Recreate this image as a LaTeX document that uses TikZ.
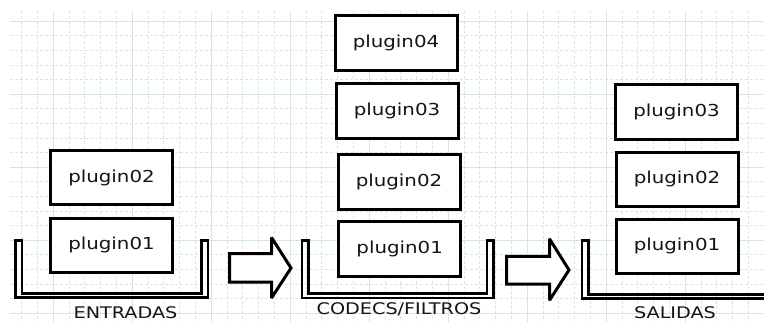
\documentclass[tikz,border=0pt]{standalone}
\usepackage{fontspec}
\usepackage{graphicx}
\setmainfont{DejaVu Sans}
\definecolor{gridmajor}{RGB}{214,228,228}
\definecolor{gridminor}{RGB}{218,230,230}
\definecolor{txt}{RGB}{20,20,20}
\newcommand\wide[1]{\scalebox{1.2}[1]{#1}}
\tikzset{
  pbox/.style={draw=black, line width=3pt, fill=white, inner sep=0pt,
    text=txt, font=\fontsize{16.5}{19}\selectfont},
  tray/.style={draw=black, line width=2.7pt, line join=miter},
  blockarrow/.style={draw=black, line width=3pt, fill=white, line join=miter, miter limit=3},
  lbl/.style={text=txt, inner sep=0pt, font=\fontsize{16}{19}\selectfont},
  gmaj/.style={draw=gridmajor, line width=0.8pt},
  gmin/.style={draw=gridminor, line width=0.6pt, dash pattern=on 3pt off 2pt}
}
\begin{document}
\begin{tikzpicture}[x=1pt,y=-1pt]
\useasboundingbox (0,0) rectangle (764,322);
% grid
\foreach \k in {-2,...,45}{
  \pgfmathsetmacro{\gx}{53+15.8*\k}
  \pgfmathtruncatemacro{\m}{mod(\k+10,5)}
  \ifnum\m=0
    \draw[gmaj] (\gx,11) -- (\gx,322);
  \else
    \draw[gmin] (\gx,11) -- (\gx,322);
  \fi
}
\foreach \k in {0,...,20}{
  \pgfmathsetmacro{\gy}{21+14.6*\k}
  \pgfmathtruncatemacro{\m}{mod(\k,5)}
  \ifnum\m=0
    \draw[gmaj] (10,\gy) -- (764,\gy);
  \else
    \draw[gmin] (10,\gy) -- (764,\gy);
  \fi
}
% left column
\node[pbox, minimum width=122pt, minimum height=54pt] (e2) at (111.5,177.5) {\wide{plugin02}};
\node[pbox, minimum width=122pt, minimum height=54pt] (e1) at (111.5,245) {\wide{plugin01}};
\draw[tray] (15.3,240.5) -- (15.3,297.7) -- (208,297.7) -- (208,240.5) -- (201.2,240.5)
  -- (201.2,293.2) -- (22,293.2) -- (22,240.5) -- cycle;
\node[lbl] (lentradas) at (125.5,313) {\wide{ENTRADAS}};
% arrow 1
\draw[blockarrow] (229.5,253.5) -- (271.5,253.5) -- (271.5,237.5) -- (291,268)
  -- (271.5,298) -- (271.5,282) -- (229.5,282) -- cycle;
% middle column
\node[pbox, minimum width=122pt, minimum height=55pt] (c4) at (396,42.5) {\wide{plugin04}};
\node[pbox, minimum width=122pt, minimum height=55pt] (c3) at (397,111.3) {\wide{plugin03}};
\node[pbox, minimum width=122pt, minimum height=55pt] (c2) at (399,182) {\wide{plugin02}};
\node[pbox, minimum width=122pt, minimum height=55pt] (c1) at (399.7,249.2) {\wide{plugin01}};
\draw[tray] (302,240.5) -- (302,298) -- (493.5,298) -- (493.5,240.5) -- (487,240.5)
  -- (487,293.8) -- (308.3,293.8) -- (308.3,240.5) -- cycle;
\node[lbl] (lcodecs) at (399,309.5) {\wide{CODECS/FILTROS}};
% arrow 2
\draw[blockarrow] (506.5,256.3) -- (549.5,256.3) -- (549.5,238.8) -- (569,270)
  -- (549.5,300.3) -- (549.5,284) -- (506.5,284) -- cycle;
% right column
\node[pbox, minimum width=122pt, minimum height=55pt] (s3) at (676.5,111.5) {\wide{plugin03}};
\node[pbox, minimum width=122pt, minimum height=54pt] (s2) at (677,179) {\wide{plugin02}};
\node[pbox, minimum width=122pt, minimum height=54pt] (s1) at (677,246) {\wide{plugin01}};
\draw[tray] (764,298.8) -- (582,298.8) -- (582,240.5) -- (588.3,240.5) -- (588.3,294.3) -- (764,294.3);
\node[lbl] (lsalidas) at (675,312.5) {\wide{SALIDAS}};
\end{tikzpicture}
\end{document}
